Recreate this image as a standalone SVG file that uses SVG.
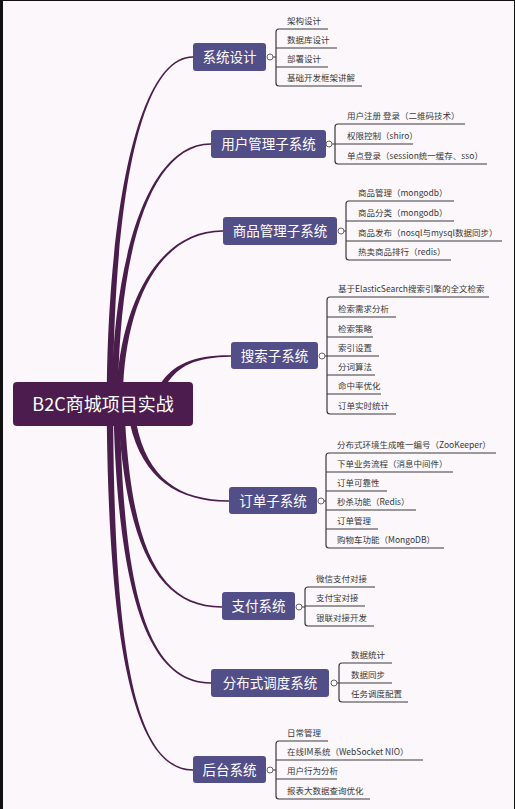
<svg xmlns="http://www.w3.org/2000/svg" width="515" height="809" viewBox="0 0 515 809">
<style>
.bg{fill:#fbf7fb}
.root{fill:#4d1c4f}
.rt{fill:#ffffff;font-family:"Noto Sans CJK SC","Noto Sans",sans-serif;font-size:18px;text-anchor:middle}
.br{fill:#524e88}
.bt{fill:#ffffff;font-family:"Noto Sans CJK SC","Noto Sans",sans-serif;font-size:13.5px;text-anchor:middle}
.lt{fill:#383838;font-family:"Noto Sans CJK SC","Noto Sans",sans-serif;font-size:8.5px}
.cv{fill:#4b1d4d}
.ln{fill:none;stroke:#3a3a3a;stroke-width:1.2}
.dot{fill:#ffffff;stroke:#666666;stroke-width:1}
</style>
<rect x="0" y="0" width="515" height="809" fill="#111"/>
<rect class="bg" x="3" y="1" width="511" height="808"/>
<g id="connectors">
<path class="cv" d="M106.8,385 C109.4,200 140,55.8 193,56.3 L193,57.7 C140,58.2 114.6,200 113.2,385 Z"/>
<path class="cv" d="M111.8,385 C115.4,250 150,142.8 211,143.3 L211,144.7 C150,145.2 120.6,250 118.2,385 Z"/>
<path class="cv" d="M116.8,385 C122.4,300 160,229.8 223,230.3 L223,231.7 C160,232.2 127.6,300 123.2,385 Z"/>
<path class="cv" d="M159.8,385 C172.4,364 195,354.8 231,355.3 L231,356.7 C195,357.2 177.6,366 166.2,385 Z"/>
<path class="cv" d="M129.8,423 C142.4,480 180,502.2 229,501.7 L229,500.3 C180,499.8 147.6,480 136.2,423 Z"/>
<path class="cv" d="M118.8,423 C127.4,550 160,608.2 222,607.7 L222,606.3 C160,605.8 132.6,550 125.2,423 Z"/>
<path class="cv" d="M113.8,423 C119.4,600 150,684.2 211,683.7 L211,682.3 C150,681.8 124.6,600 120.2,423 Z"/>
<path class="cv" d="M106.8,423 C109.4,650 135,771.2 193,770.7 L193,769.3 C135,768.8 114.6,650 113.2,423 Z"/>
<path class="ln" d="M328,29 H279 Q276,29 276,32 V83 Q276,86 279,86 H362 M276,48 H337 M276,67 H328 M273,57 H276"/>
<path class="ln" d="M465,124 H338 Q335,124 335,127 V161 Q335,164 338,164 H487 M335,144 H413 M332,144 H335"/>
<path class="ln" d="M454,201 H349 Q346,201 346,204 V257 Q346,260 349,260 H451 M346,221 H454 M346,241 H502 M344,231 H346"/>
<path class="ln" d="M489,297 H330 Q327,297 327,300 V411 Q327,414 330,414 H396 M327,317 H396 M327,337 H373 M327,356 H379 M327,375 H375 M327,394 H381 M325,356 H327"/>
<path class="ln" d="M496,453 H329 Q326,453 326,456 V545 Q326,548 329,548 H444 M326,472 H453 M326,491 H387 M326,510 H416 M326,529 H378 M324,501 H326"/>
<path class="ln" d="M375,587 H308 Q305,587 305,590 V623 Q305,626 308,626 H374 M305,606 H365 M302,607 H305"/>
<path class="ln" d="M392,663 H342 Q339,663 339,666 V699 Q339,702 342,702 H408 M339,683 H392 M337,683 H339"/>
<path class="ln" d="M328,741 H279 Q276,741 276,744 V796 Q276,799 279,799 H370 M276,760 H423 M276,779 H337 M273,770 H276"/>
</g>
<g id="root">
<rect class="root" x="13" y="382" width="180" height="44" rx="4"/>
<text class="rt" x="103" y="410.5">B2C商城项目实战</text>
</g>
<g id="n1">
<rect class="br" x="193" y="43" width="73" height="28" rx="3"/>
<text class="bt" x="229.5" y="62">系统设计</text>
<circle class="dot" cx="270" cy="57" r="3"/>
</g>
<g id="n1-leaves">
<text class="lt" x="287" y="24">架构设计</text>
<text class="lt" x="287" y="43">数据库设计</text>
<text class="lt" x="287" y="62">部署设计</text>
<text class="lt" x="287" y="81">基础开发框架讲解</text>
</g>
<g id="n2">
<rect class="br" x="211" y="130" width="115" height="28" rx="3"/>
<text class="bt" x="268.5" y="149">用户管理子系统</text>
<circle class="dot" cx="329" cy="144" r="3"/>
</g>
<g id="n2-leaves">
<text class="lt" x="347" y="119">用户注册 登录（二维码技术）</text>
<text class="lt" x="347" y="139">权限控制（shiro）</text>
<text class="lt" x="347" y="159">单点登录（session统一缓存、sso）</text>
</g>
<g id="n3">
<rect class="br" x="223" y="217" width="114" height="28" rx="3"/>
<text class="bt" x="280" y="236">商品管理子系统</text>
<circle class="dot" cx="341" cy="231" r="3"/>
</g>
<g id="n3-leaves">
<text class="lt" x="358" y="196">商品管理（mongodb）</text>
<text class="lt" x="358" y="216">商品分类（mongodb）</text>
<text class="lt" x="358" y="236">商品发布（nosql与mysql数据同步）</text>
<text class="lt" x="358" y="255">热卖商品排行（redis）</text>
</g>
<g id="n4">
<rect class="br" x="231" y="342" width="87" height="27" rx="3"/>
<text class="bt" x="274.5" y="360.5">搜索子系统</text>
<circle class="dot" cx="322" cy="356" r="3"/>
</g>
<g id="n4-leaves">
<text class="lt" x="338" y="292">基于ElasticSearch搜索引擎的全文检索</text>
<text class="lt" x="338" y="312">检索需求分析</text>
<text class="lt" x="338" y="332">检索策略</text>
<text class="lt" x="338" y="351">索引设置</text>
<text class="lt" x="338" y="370">分词算法</text>
<text class="lt" x="338" y="389">命中率优化</text>
<text class="lt" x="338" y="409">订单实时统计</text>
</g>
<g id="n5">
<rect class="br" x="229" y="487" width="88" height="27" rx="3"/>
<text class="bt" x="273" y="505.5">订单子系统</text>
<circle class="dot" cx="321" cy="501" r="3"/>
</g>
<g id="n5-leaves">
<text class="lt" x="337" y="448">分布式环境生成唯一编号（ZooKeeper）</text>
<text class="lt" x="337" y="467">下单业务流程（消息中间件）</text>
<text class="lt" x="337" y="486">订单可靠性</text>
<text class="lt" x="337" y="505">秒杀功能（Redis）</text>
<text class="lt" x="337" y="524">订单管理</text>
<text class="lt" x="337" y="543">购物车功能（MongoDB）</text>
</g>
<g id="n6">
<rect class="br" x="222" y="592" width="73" height="28" rx="3"/>
<text class="bt" x="258.5" y="611">支付系统</text>
<circle class="dot" cx="299" cy="607" r="3"/>
</g>
<g id="n6-leaves">
<text class="lt" x="316" y="582">微信支付对接</text>
<text class="lt" x="316" y="601">支付宝对接</text>
<text class="lt" x="316" y="621">银联对接开发</text>
</g>
<g id="n7">
<rect class="br" x="211" y="669" width="118" height="28" rx="3"/>
<text class="bt" x="270" y="688">分布式调度系统</text>
<circle class="dot" cx="334" cy="683" r="3"/>
</g>
<g id="n7-leaves">
<text class="lt" x="351" y="658">数据统计</text>
<text class="lt" x="351" y="678">数据同步</text>
<text class="lt" x="351" y="697">任务调度配置</text>
</g>
<g id="n8">
<rect class="br" x="193" y="756" width="73" height="27" rx="3"/>
<text class="bt" x="229.5" y="774.5">后台系统</text>
<circle class="dot" cx="270" cy="770" r="3"/>
</g>
<g id="n8-leaves">
<text class="lt" x="287" y="736">日常管理</text>
<text class="lt" x="287" y="755">在线IM系统（WebSocket NIO）</text>
<text class="lt" x="287" y="774">用户行为分析</text>
<text class="lt" x="287" y="794">报表大数据查询优化</text>
</g>
</svg>
